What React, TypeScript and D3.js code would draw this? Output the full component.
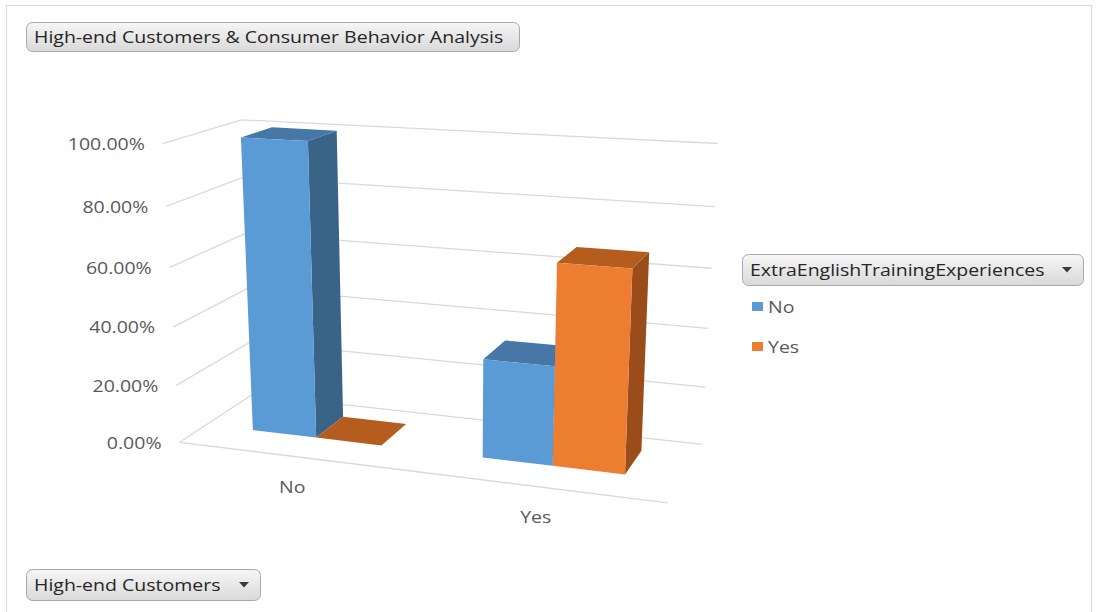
import React, { useMemo } from "react";
import * as d3 from "d3";

// ---- data -------------------------------------------------------------
const categories = ["No", "Yes"]; // High-end Customers
const seriesNames = ["No", "Yes"]; // ExtraEnglishTrainingExperiences
const seriesNoValues = [1.0, 0.3333];
const seriesYesValues = [0.0, 0.6667];
const valueTicks = [0, 0.2, 0.4, 0.6, 0.8, 1.0];

const chartTitle = "High-end Customers & Consumer Behavior Analysis";
const legendTitle = "ExtraEnglishTrainingExperiences";
const axisFieldName = "High-end Customers";

// ---- style ------------------------------------------------------------
const W = 1098;
const H = 612;
const FONT = "'Open Sans', 'Noto Sans', sans-serif";
const TEXT_STRETCH = 1.22;
const GRID = "#d9d9d9";
const LABEL = "#595959";

const palette: Record<string, { front: string; top: string; side: string; swatch: string }> = {
  No: { front: "#5b9bd5", top: "#4677a7", side: "#3a6388", swatch: "#5b9bd5" },
  Yes: { front: "#ed7d31", top: "#b55d1f", side: "#9a4d1b", swatch: "#ed7d31" },
};

// depth band of the columns inside the floor (0 = front, 1 = back)
const BAR_Z0 = 0.35;
const BAR_Z1 = 0.77;

// Screen anchors of the plot box corners: [X, Y, Z] unit cube -> pixel
type V3 = [number, number, number];
const boxAnchors: { w: V3; s: [number, number] }[] = [
  { w: [0, 0, 0], s: [180, 441] },
  { w: [0, 1, 0], s: [163, 143] },
  { w: [0, 0, 1], s: [252, 396] },
  { w: [0, 1, 1], s: [241, 120] },
  { w: [1, 0, 1], s: [703, 442] },
  { w: [1, 1, 1], s: [718, 144] },
  { w: [1, 0, 0], s: [667, 505] },
];

// Fit a pinhole projection (3x4 matrix, p34 = 1) to the anchors by least squares.
function fitProjection(anchors: { w: V3; s: [number, number] }[]) {
  const cx = 440, cy = 300, sc = 300;
  const rows: number[][] = [];
  const rhs: number[] = [];
  for (const { w: [X, Y, Z], s: [u0, v0] } of anchors) {
    const u = (u0 - cx) / sc;
    const v = (v0 - cy) / sc;
    rows.push([X, Y, Z, 1, 0, 0, 0, 0, -u * X, -u * Y, -u * Z]);
    rhs.push(u);
    rows.push([0, 0, 0, 0, X, Y, Z, 1, -v * X, -v * Y, -v * Z]);
    rhs.push(v);
  }
  const n = 11;
  const M = Array.from({ length: n }, () => new Array(n + 1).fill(0));
  rows.forEach((r, k) => {
    for (let i = 0; i < n; i++) {
      for (let j = 0; j < n; j++) M[i][j] += r[i] * r[j];
      M[i][n] += r[i] * rhs[k];
    }
  });
  for (let c = 0; c < n; c++) {
    let piv = c;
    for (let r = c + 1; r < n; r++) if (Math.abs(M[r][c]) > Math.abs(M[piv][c])) piv = r;
    [M[c], M[piv]] = [M[piv], M[c]];
    for (let r = 0; r < n; r++) {
      if (r === c) continue;
      const f = M[r][c] / M[c][c];
      for (let k = c; k <= n; k++) M[r][k] -= f * M[c][k];
    }
  }
  const p = M.map((row, i) => row[n] / row[i]);
  return (X: number, Y: number, Z: number): [number, number] => {
    const d = p[8] * X + p[9] * Y + p[10] * Z + 1;
    return [
      cx + (sc * (p[0] * X + p[1] * Y + p[2] * Z + p[3])) / d,
      cy + (sc * (p[4] * X + p[5] * Y + p[6] * Z + p[7])) / d,
    ];
  };
}

function Txt({ x, y, anchor = "start", fill = LABEL, size = 16, children }: any) {
  return (
    <text
      transform={`translate(${x},${y}) scale(${TEXT_STRETCH},1)`}
      textAnchor={anchor}
      dominantBaseline="central"
      fontFamily={FONT}
      fontSize={size}
      fill={fill}
    >
      {children}
    </text>
  );
}

function FieldButton({ x, y, w, h, label, arrow }: any) {
  return (
    <g>
      <rect x={x + 0.5} y={y + 0.5} width={w} height={h} rx={6} fill="url(#btnFill)" stroke="#a9a9a9" />
      <Txt x={x + 8} y={y + h / 2} fill="#262626">
        {label}
      </Txt>
      {arrow && (
        <path
          d={`M${x + w - 21},${y + h / 2 - 2.5} h10 l-5,5.5 z`}
          fill="#3a3a3a"
        />
      )}
    </g>
  );
}

export default function App() {
  const project = useMemo(() => fitProjection(boxAnchors), []);

  const x = d3.scaleBand<string>().domain(categories).range([0, 1]);
  const xs = d3
    .scaleBand<string>()
    .domain(seriesNames)
    .range([0, x.bandwidth()])
    .paddingInner(0)
    .paddingOuter(0.75);
  const y = d3.scaleLinear().domain([0, 1]).range([0, 1]);
  const fmt = d3.format(".2%");

  const seriesValues: Record<string, number[]> = { No: seriesNoValues, Yes: seriesYesValues };

  const line = d3.line<V3>().x((d) => project(...d)[0]).y((d) => project(...d)[1]);
  const poly = (pts: V3[]) => line(pts) + "Z";

  // columns, painted left to right (the camera sits to the right)
  const bars: { key: string; x0: number; x1: number; v: number; s: string }[] = [];
  categories.forEach((c, ci) => {
    seriesNames.forEach((s) => {
      const x0 = (x(c) ?? 0) + (xs(s) ?? 0);
      bars.push({ key: `${c}-${s}`, x0, x1: x0 + xs.bandwidth(), v: y(seriesValues[s][ci]), s });
    });
  });

  return (
    <svg
      width={W}
      height={H}
      viewBox={`0 0 ${W} ${H}`}
      style={{ position: "absolute", left: 0, top: 0, background: "#ffffff" }}
    >
      <defs>
        <linearGradient id="btnFill" x1="0" y1="0" x2="0" y2="1">
          <stop offset="0" stopColor="#f6f6f6" />
          <stop offset="1" stopColor="#d9d9d9" />
        </linearGradient>
      </defs>
      <rect x={6.5} y={5.5} width={1085} height={640} fill="#ffffff" stroke="#d9d9d9" />

      {/* walls: gridlines on side and back wall */}
      <g fill="none" stroke={GRID} strokeWidth={1.3}>
        {valueTicks.map((t) => (
          <path
            key={t}
            d={line([
              [0, y(t), 0],
              [0, y(t), 1],
              [1, y(t), 1],
            ] as V3[]) as string}
          />
        ))}
        <path d={line([[0, 0, 0], [1, 0, 0]] as V3[]) as string} />
      </g>

      {/* value axis labels */}
      {valueTicks.map((t) => {
        const [px, py] = project(0, y(t), 0);
        return (
          <Txt key={t} x={px - 18} y={py} anchor="end">
            {fmt(t)}
          </Txt>
        );
      })}

      {/* category labels */}
      {categories.map((c) => {
        const [px, py] = project((x(c) ?? 0) + x.bandwidth() / 2, 0, 0);
        return (
          <Txt key={c} x={px} y={py + 30} anchor="middle">
            {c}
          </Txt>
        );
      })}

      {/* columns */}
      {bars.map((b) => {
        const col = palette[b.s];
        const { x0, x1, v } = b;
        return (
          <g key={b.key}>
            {v > 0 && (
              <path
                d={poly([[x1, 0, BAR_Z0], [x1, 0, BAR_Z1], [x1, v, BAR_Z1], [x1, v, BAR_Z0]])}
                fill={col.side}
              />
            )}
            <path
              d={poly([[x0, v, BAR_Z0], [x1, v, BAR_Z0], [x1, v, BAR_Z1], [x0, v, BAR_Z1]])}
              fill={col.top}
            />
            {v > 0 && (
              <path
                d={poly([[x0, 0, BAR_Z0], [x1, 0, BAR_Z0], [x1, v, BAR_Z0], [x0, v, BAR_Z0]])}
                fill={col.front}
              />
            )}
          </g>
        );
      })}

      {/* legend */}
      <FieldButton x={742} y={254} w={341} h={31} label={legendTitle} arrow />
      {seriesNames.map((s, i) => (
        <g key={s}>
          <rect x={752} y={302 + i * 40} width={11} height={9} fill={palette[s].swatch} />
          <Txt x={768} y={307 + i * 40}>
            {s}
          </Txt>
        </g>
      ))}

      <FieldButton x={26} y={22} w={493} h={29} label={chartTitle} />
      <FieldButton x={26} y={569} w={234} h={31} label={axisFieldName} arrow />
    </svg>
  );
}
